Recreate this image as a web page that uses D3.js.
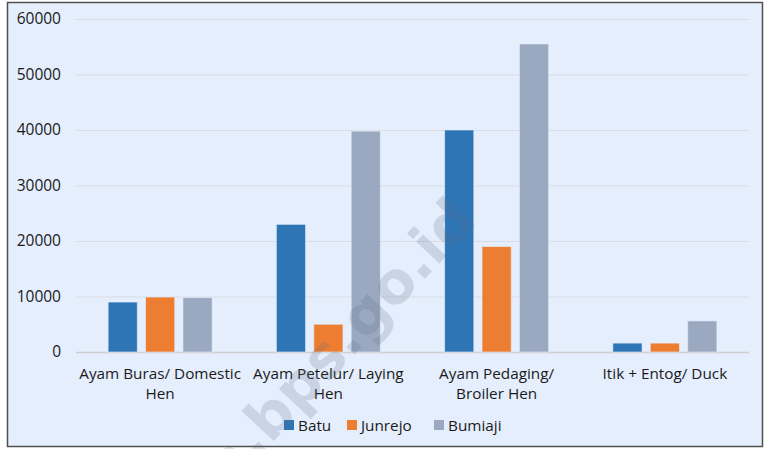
<!DOCTYPE html>
<html>
<head>
<meta charset="utf-8">
<script src="https://cdn.jsdelivr.net/npm/d3@7"></script>
<style>
  body { margin: 0; background: #fff; }
  svg text { font-family: "Open Sans", "DejaVu Sans", sans-serif; }
</style>
</head>
<body>
<div id="chart"></div>
<script>
var categories = ["Ayam Buras/ Domestic Hen", "Ayam Petelur/ Laying Hen", "Ayam Pedaging/ Broiler Hen", "Itik + Entog/ Duck"];
var labelLines = [["Ayam Buras/ Domestic", "Hen"], ["Ayam Petelur/ Laying", "Hen"], ["Ayam Pedaging/", "Broiler Hen"], ["Itik + Entog/ Duck"]];
var seriesNames = ["Batu", "Junrejo", "Bumiaji"];
var batu = [9000, 23000, 40000, 1600];
var junrejo = [9900, 5000, 19000, 1600];
var bumiaji = [9800, 39800, 55500, 5600];
var yTicks = [0, 10000, 20000, 30000, 40000, 50000, 60000];
var colors = ["#2e75b6", "#ed7d31", "#9aa9bf"];

var w = 767, h = 449;
var plotLeft = 76, plotRight = 749, plotTop = 19, plotBottom = 352;

var svg = d3.select("#chart").append("svg")
    .attr("width", w)
    .attr("height", h);

svg.append("rect")
    .attr("x", 7.5).attr("y", 2.5)
    .attr("width", 755).attr("height", 444)
    .attr("fill", "#e5eefd")
    .attr("stroke", "#505050")
    .attr("stroke-width", 1.5);

var x0 = d3.scaleBand().domain(categories).range([plotLeft, plotRight]);
var x1 = d3.scaleBand().domain(seriesNames).range([0, 104]).paddingInner(0.22);
var y = d3.scaleLinear().domain([0, 60000]).range([plotBottom, plotTop]);

// gridlines
svg.append("g").selectAll("line")
    .data(yTicks)
    .enter().append("line")
    .attr("x1", plotLeft).attr("x2", plotRight)
    .attr("y1", function (d) { return y(d) + 0.5; })
    .attr("y2", function (d) { return y(d) + 0.5; })
    .attr("stroke", function (d) { return d === 0 ? "#cfcfcf" : "#d9dde3"; })
    .attr("stroke-width", function (d) { return d === 0 ? 1.5 : 1; });

// y labels
var yAxis = d3.axisLeft(y).tickValues(yTicks).tickSize(0).tickPadding(0).tickFormat(d3.format("d"));
var ya = svg.append("g").attr("transform", "translate(61,0)").call(yAxis);
ya.select(".domain").remove();
ya.selectAll("text").attr("font-size", 15.5).attr("fill", "#1a1a1a")
    .style("font-family", "'Open Sans', sans-serif");

var series = [batu, junrejo, bumiaji];
var groups = svg.append("g").selectAll("g")
    .data(categories)
    .enter().append("g")
    .attr("transform", function (d) { return "translate(" + (x0(d) + x0.bandwidth() / 2 - 52) + ",0)"; });

groups.selectAll("rect")
    .data(function (d, i) {
        return seriesNames.map(function (s, j) { return { s: s, v: series[j][i], c: colors[j] }; });
    })
    .enter().append("rect")
    .attr("x", function (d) { return x1(d.s); })
    .attr("y", function (d) { return y(d.v); })
    .attr("width", x1.bandwidth())
    .attr("height", function (d) { return y(0) - y(d.v); })
    .attr("fill", function (d) { return d.c; })
    .attr("stroke", "#e5eefd")
    .attr("stroke-opacity", 0.6)
    .attr("stroke-width", 1);

// x labels
svg.append("g").selectAll("text")
    .data(categories)
    .enter().append("text")
    .attr("x", function (d) { return x0(d) + x0.bandwidth() / 2; })
    .attr("y", 379)
    .attr("text-anchor", "middle")
    .attr("font-size", 15.3)
    .attr("fill", "#1a1a1a")
    .each(function (d, i) {
        var t = d3.select(this);
        labelLines[i].forEach(function (line, k) {
            t.append("tspan").attr("x", x0(d) + x0.bandwidth() / 2)
                .attr("dy", k === 0 ? 0 : 20).text(line);
        });
    });

// legend
var legendX = [284, 347, 434];
var lg = svg.append("g").selectAll("g")
    .data(seriesNames)
    .enter().append("g")
    .attr("transform", function (d, i) { return "translate(" + legendX[i] + ",420)"; });
lg.append("rect").attr("width", 10).attr("height", 10)
    .attr("fill", function (d, i) { return colors[i]; });
lg.append("text").attr("x", 14).attr("y", 10.5)
    .attr("font-size", 15.3).attr("fill", "#1a1a1a")
    .text(function (d) { return d; });

// watermark
svg.append("text")
    .attr("transform", "translate(478,222) rotate(-47)")
    .attr("text-anchor", "end")
    .attr("font-size", 58)
    .attr("font-weight", "bold")
    .attr("fill", "#5a6a80")
    .attr("fill-opacity", 0.2)
    .style("font-family", "'DejaVu Sans', sans-serif")
    .text("kota.bps.go.id");
</script>
</body>
</html>
